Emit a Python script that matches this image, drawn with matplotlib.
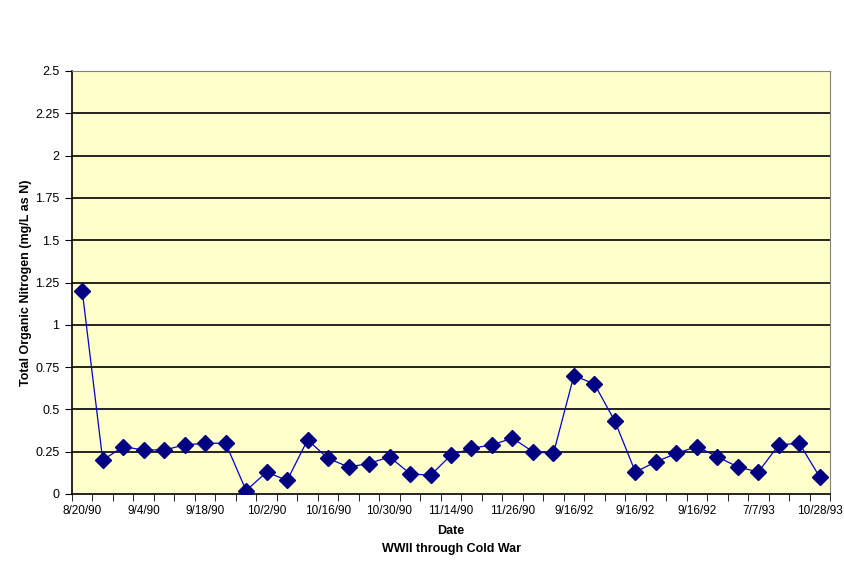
import numpy as np
import matplotlib.pyplot as plt

plt.rcParams['font.family'] = ['Liberation Sans', 'DejaVu Sans']

# values, one per sampling date (37 samples)
nitrogen = [1.20, 0.20, 0.28, 0.26, 0.26, 0.29, 0.30, 0.30, 0.02, 0.13,
            0.08, 0.32, 0.21, 0.16, 0.18, 0.22, 0.12, 0.11, 0.23, 0.27,
            0.29, 0.33, 0.25, 0.24, 0.70, 0.65, 0.43, 0.13, 0.19, 0.24,
            0.28, 0.22, 0.16, 0.13, 0.29, 0.30, 0.10]
# only every third date is labelled on the axis
date_labels = ['8/20/90', '9/4/90', '9/18/90', '10/2/90', '10/16/90', '10/30/90',
               '11/14/90', '11/26/90', '9/16/92', '9/16/92', '9/16/92', '7/7/93',
               '10/28/93']
y_ticks = [0, 0.25, 0.5, 0.75, 1, 1.25, 1.5, 1.75, 2, 2.25, 2.5]
y_tick_labels = ['0', '0.25', '0.5', '0.75', '1', '1.25', '1.5', '1.75', '2', '2.25', '2.5']

n = len(nitrogen)
x = np.arange(n)

fig = plt.figure(figsize=(8.44, 5.73), dpi=100)
ax = fig.add_axes([72/844, 79/573, 758/844, 423/573])
ax.set_facecolor('#FFFFCC')

for yv in y_ticks[1:-1]:
    ax.axhline(yv, color='black', lw=1.2, zorder=1)

ax.plot(x, nitrogen, color='#0000CC', lw=0.9, zorder=2)
ax.plot(x, nitrogen, ls='none', marker='D', ms=8, color='#000080',
        markeredgecolor='#000080', zorder=3)

ax.set_xlim(-0.5, n - 0.5)
ax.set_ylim(0, 2.5)
ax.set_yticks(y_ticks)
ax.set_yticklabels(y_tick_labels, fontsize=9)
ax.set_xticks(x[::3])
ax.set_xticklabels(date_labels, fontsize=8.5)
ax.set_xticks(np.arange(-0.5, n, 1), minor=True)
ax.tick_params(axis='x', which='major', length=0, pad=8)
ax.tick_params(axis='x', which='minor', length=5, direction='out', color='black')
ax.tick_params(axis='y', length=5, direction='out', pad=4)

ax.spines['top'].set_color('#808080')
ax.spines['right'].set_color('#808080')
ax.spines['left'].set_color('black')
ax.spines['bottom'].set_color('black')
ax.spines['left'].set_linewidth(1.2)
ax.spines['bottom'].set_linewidth(1.2)

ax.set_xlabel('Date\nWWII through Cold War', fontsize=9, fontweight='bold',
              labelpad=6, linespacing=1.6)
ax.set_ylabel('Total Organic Nitrogen (mg/L as N)', fontsize=9, fontweight='bold', labelpad=2)

plt.savefig('out.png', dpi=100)
